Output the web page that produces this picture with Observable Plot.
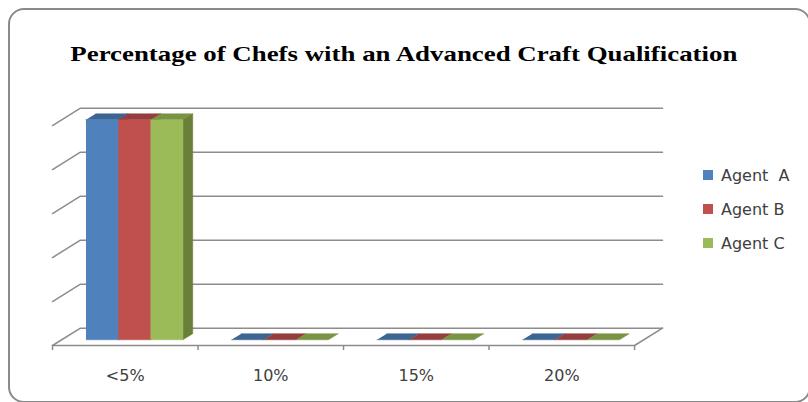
<!DOCTYPE html>
<html>
<head>
<meta charset="utf-8">
<script src="https://cdn.jsdelivr.net/npm/d3@7"></script>
<script src="https://cdn.jsdelivr.net/npm/@observablehq/plot@0.6"></script>
<style>
  html, body { margin: 0; padding: 0; background: #fff; }
  #chart { position: relative; width: 808px; height: 402px; overflow: hidden; }
  #frame { position: absolute; left: 8px; top: 8px; width: 803px; height: 395px; box-sizing: border-box;
           border: 2px solid #8a8a8a; border-radius: 16px; }
  #title { position: absolute; left: 0; top: 44px; width: 808px; text-align: center; white-space: nowrap;
           font: bold 21px "Liberation Serif", "Times New Roman", serif; line-height: 21px; color: #000; }
  #title span { display: inline-block; transform-origin: center; }
  #legend { position: absolute; left: 703px; top: 158px; font: 16px "DejaVu Sans", sans-serif; color: #404040; }
  .row { display: flex; align-items: center; height: 34px; white-space: pre; }
  .sw { width: 10px; height: 10px; margin-right: 8px; }
  #chart svg { position: absolute; left: 0; top: 0; }
</style>
</head>
<body>
<div id="chart">
  <div id="frame"></div>
  <div id="title"><span>Percentage of Chefs with an Advanced Craft Qualification</span></div>
  <div id="legend"></div>
</div>
<script>
// Values per category band
const categories = ["<5%", "10%", "15%", "20%"];
const seriesNames = ["Agent  A", "Agent B", "Agent C"];
const agentA = [100, 0, 0, 0];
const agentB = [100, 0, 0, 0];
const agentC = [100, 0, 0, 0];
const gridValues = [0, 20, 40, 60, 80, 100];

// Face colours for each series: front, top, right side
const series = [
  { name: seriesNames[0], values: agentA, front: "#4F81BD", top: "#3C6594", side: "#385D8A" },
  { name: seriesNames[1], values: agentB, front: "#C0504D", top: "#943F3D", side: "#8C3836" },
  { name: seriesNames[2], values: agentC, front: "#9BBB59", top: "#7A9446", side: "#6A803A" }
];

// Oblique projection: depth d (0 = front, 1 = back wall) shifts a point
// right by DEPTH_X categories and up by DEPTH_Y value units.
const DEPTH_X = 0.192;
const DEPTH_Y = 7.9;
const proj = (c, v, d) => ({ x: c + d * DEPTH_X, y: v + d * DEPTH_Y });

const n = categories.length;
const barW = 1 / 4.5;          // three bars plus a 150% gap per band
const gapHalf = 0.75 * barW;
const d0 = 0.33, d1 = 0.68;    // front and back of the columns

// Column faces as closed polygons, drawn back to front
const faces = [];
categories.forEach((cat, ci) => {
  series.forEach((s, si) => {
    const v = s.values[ci];
    const xa = ci + gapHalf + si * barW, xb = xa + barW;
    const add = (key, color, pts) =>
      pts.forEach(p => faces.push({ ...proj(...p), face: `${ci}-${si}-${key}`, color }));
    add("top", s.top, [[xa, v, d0], [xb, v, d0], [xb, v, d1], [xa, v, d1]]);
    if (v > 0) {
      add("side", s.side, [[xb, 0, d0], [xb, 0, d1], [xb, v, d1], [xb, v, d0]]);
      add("front", s.front, [[xa, 0, d0], [xb, 0, d0], [xb, v, d0], [xa, v, d0]]);
    }
  });
});

// Gridlines: side-wall diagonal joined to the back-wall line, plus the floor edges
const grid = [];
gridValues.forEach(v => {
  [[0, v, 0], [0, v, 1], [n, v, 1]].forEach(p => grid.push({ ...proj(...p), id: "g" + v }));
});
[[0, 0, 0], [n, 0, 0], [n, 0, 1]].forEach(p => grid.push({ ...proj(...p), id: "floor" }));

const TICK = 2.3; // tick length below the floor edge, in value units
const gridColor = "#8c8c8c";

const plot = Plot.plot({
  width: 808,
  height: 402,
  marginLeft: 52,
  marginRight: 146,
  marginTop: 107.7,
  marginBottom: 57,
  x: { domain: [0, n + DEPTH_X], axis: null },
  y: { domain: [0, 100 + DEPTH_Y], axis: null },
  color: { type: "identity" },
  style: { background: "transparent", overflow: "visible" },
  marks: [
    Plot.line(grid, { x: "x", y: "y", z: "id", stroke: gridColor, strokeWidth: 1.5 }),
    Plot.ruleX(d3.range(n + 1), { x: d => d, y1: 0, y2: -TICK, stroke: gridColor, strokeWidth: 1.5 }),
    Plot.line(faces, { x: "x", y: "y", z: "face", fill: "color", stroke: "color", strokeWidth: 0.5, curve: "linear" }),
    Plot.text(categories, {
      x: (d, i) => i + 0.5, y: 0, dy: 30, text: d => d,
      fontSize: 16, fontFamily: "DejaVu Sans", fill: "#404040", lineAnchor: "middle"
    })
  ]
});
document.getElementById("chart").appendChild(plot);

// Legend
const legend = d3.select("#legend");
series.forEach(s => {
  const row = legend.append("div").attr("class", "row");
  row.append("div").attr("class", "sw").style("background", s.front);
  row.append("span").text(s.name);
});

// Fit the title to its line width
const span = document.querySelector("#title span");
span.style.transform = "none";
span.style.transform = `scaleX(${667 / span.getBoundingClientRect().width})`;
</script>
</body>
</html>
